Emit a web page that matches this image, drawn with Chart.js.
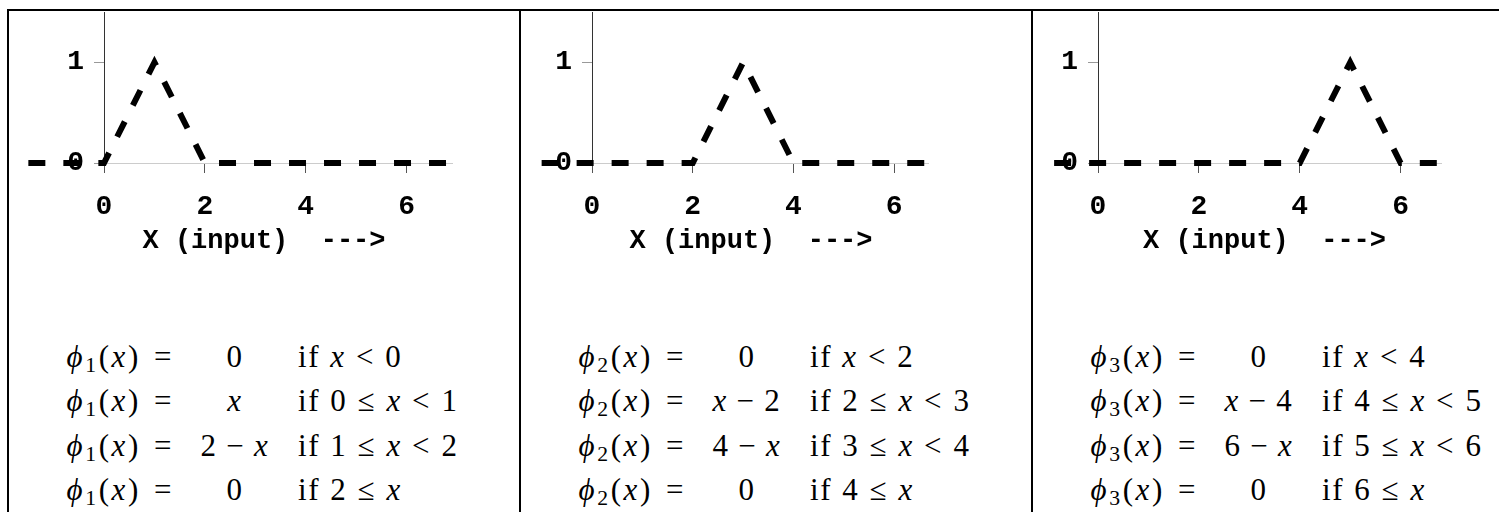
<!DOCTYPE html>
<html>
<head>
<meta charset="utf-8">
<script src="https://cdn.jsdelivr.net/npm/chart.js@4.4.1/dist/chart.umd.min.js"></script>
<style>
  html, body { margin: 0; padding: 0; width: 1499px; height: 512px; overflow: hidden; background: #fff; }
  .frame { position: absolute; left: 7px; top: 9px; width: 1600px; height: 600px;
           border-top: 2px solid #000; border-left: 2px solid #000; }
  .sep { position: absolute; top: 9px; width: 2px; height: 600px; background: #000; }
  canvas { position: absolute; top: 0; }
  .eq { position: absolute; top: 335px; width: 490px;
        font-family: "Liberation Serif", "DejaVu Serif", serif; font-size: 31px;
        letter-spacing: 1.6px; color: #000; }
  .eq .row { position: relative; height: 44.4px; line-height: 44.4px; white-space: nowrap; }
  .eq .c1 { position: absolute; left: 0; width: 166px; text-align: right; letter-spacing: 2.6px; }
  .eq .c2 { position: absolute; left: 164px; width: 126px; text-align: center; }
  .eq .c3 { position: absolute; left: 290px; }
  .eq sub { font-size: 0.7em; vertical-align: -0.25em; line-height: 0; font-style: normal; }
  .eq .rel { margin: 0 0.33em; }
  .eq .bin { margin: 0 0.28em; }
  .eq .eqs { margin-left: 0.42em; }
  .eq .q { display: inline-block; width: 0.33em; }
</style>
</head>
<body>
<div class="frame"></div>
<div class="sep" style="left:519px"></div>
<div class="sep" style="left:1031px"></div>

<script>
// axis ticks shared by the three panels
const xTicks = [0, 2, 4, 6];
const yTicks = [0, 1];
const yMax = 1.5;
const xMax = [6.9, 6.67, 6.8];
const axisTitle = "X (input)  --->";

// hat functions phi_1, phi_2, phi_3 (corner points)
const phi1X = [-1.5, 0, 1, 2, 6.9];
const phi1Y = [0, 0, 1, 0, 0];
const phi2X = [-1, 2, 3, 4, 6.67];
const phi2Y = [0, 0, 1, 0, 0];
const phi3X = [-0.87, 4, 5, 6, 6.8];
const phi3Y = [0, 0, 1, 0, 0];

// equation text under each plot
const eqIndex = ["1", "2", "3"];
const eqValues = [
  ["0", "x", "2 − x", "0"],
  ["0", "x − 2", "4 − x", "0"],
  ["0", "x − 4", "6 − x", "0"]
];
const eqConds = [
  ["if x < 0", "if 0 ≤ x < 1", "if 1 ≤ x < 2", "if 2 ≤ x"],
  ["if x < 2", "if 2 ≤ x < 3", "if 3 ≤ x < 4", "if 4 ≤ x"],
  ["if x < 4", "if 4 ≤ x < 5", "if 5 ≤ x < 6", "if 6 ≤ x"]
];

const panelLeft = [8, 520, 1032];
const axisX = [104, 592, 1098];
const plotW = [348, 336, 343];
const titleShift = [-14, -9, -5];
const series = [[phi1X, phi1Y], [phi2X, phi2Y], [phi3X, phi3Y]];

const mono = '"Liberation Mono", "DejaVu Sans Mono", monospace';
const H = 270, yAxisW = 100, padTop = 12, padRight = 30, titleY = 241;

function mathify(s) {
  return s
    .replace(/^if /, "if<span class=\"q\"></span>")
    .replace(/x/g, "<i>x</i>")
    .replace(/ < /g, '<span class="rel">&lt;</span>')
    .replace(/ ≤ /g, '<span class="rel">≤</span>')
    .replace(/ − /g, '<span class="bin">−</span>');
}

// axis title drawn a little off the plot centre, as in the source figure
const xTitlePlugin = {
  id: "xTitle",
  afterDraw(chart, args, opts) {
    const ctx = chart.ctx;
    const area = chart.chartArea;
    ctx.save();
    ctx.font = "bold 27px " + mono;
    ctx.fillStyle = "#000";
    ctx.textAlign = "center";
    ctx.textBaseline = "middle";
    ctx.fillText(axisTitle, (area.left + area.right) / 2 + opts.shift, titleY);
    ctx.restore();
  },
};

series.forEach((s, i) => {
  const canvas = document.createElement("canvas");
  const W = yAxisW + plotW[i] + padRight;
  canvas.width = W;
  canvas.height = H;
  canvas.style.left = (axisX[i] - yAxisW) + "px";
  canvas.style.width = W + "px";
  canvas.style.height = H + "px";
  document.body.appendChild(canvas);

  new Chart(canvas.getContext("2d"), {
    type: "line",
    data: {
      datasets: [
        {
          data: s[0].map((x, j) => ({ x: x, y: s[1][j] })),
          borderColor: "#000",
          borderWidth: 6,
          borderDash: [17, 18],
          borderJoinStyle: "miter",
          pointRadius: 0,
          tension: 0,
          fill: false,
          clip: false,
        },
      ],
    },
    plugins: [xTitlePlugin],
    options: {
      responsive: false,
      animation: false,
      devicePixelRatio: 1,
      layout: { autoPadding: false, padding: { left: 0, right: padRight, top: padTop, bottom: 0 } },
      plugins: {
        legend: { display: false },
        tooltip: { enabled: false },
        xTitle: { shift: titleShift[i] },
      },
      scales: {
        x: {
          type: "linear",
          min: 0,
          max: xMax[i],
          afterFit: (scale) => {
            scale.height = H - 163;
            scale.paddingLeft = 0;
            scale.paddingRight = 0;
          },
          afterBuildTicks: (scale) => { scale.ticks = xTicks.map((v) => ({ value: v })); },
          border: { color: "#ccc", width: 1 },
          grid: { drawOnChartArea: false, drawTicks: true, tickLength: 10, color: "#555" },
          ticks: { color: "#000", padding: 17, maxRotation: 0,
                   font: { family: mono, weight: "bold", size: 28 } },
        },
        y: {
          min: 0,
          max: yMax,
          afterFit: (scale) => {
            scale.width = yAxisW;
            scale.paddingTop = 0;
            scale.paddingBottom = 0;
          },
          afterBuildTicks: (scale) => { scale.ticks = yTicks.map((v) => ({ value: v })); },
          border: { color: "#333", width: 1 },
          grid: { drawOnChartArea: false, drawTicks: true, tickLength: 10, color: "#999" },
          ticks: { color: "#000", padding: 10,
                   font: { family: mono, weight: "bold", size: 28 } },
        },
      },
    },
  });

  // equations block
  const eq = document.createElement("div");
  eq.className = "eq";
  eq.style.left = panelLeft[i] + "px";
  eqValues[i].forEach((v, r) => {
    const row = document.createElement("div");
    row.className = "row";
    row.innerHTML =
      '<span class="c1"><i>ϕ</i><sub>' + eqIndex[i] + '</sub>(<i>x</i>)<span class="eqs">=</span></span>' +
      '<span class="c2">' + mathify(v) + "</span>" +
      '<span class="c3">' + mathify(eqConds[i][r]) + "</span>";
    eq.appendChild(row);
  });
  document.body.appendChild(eq);
});
</script>
</body>
</html>
